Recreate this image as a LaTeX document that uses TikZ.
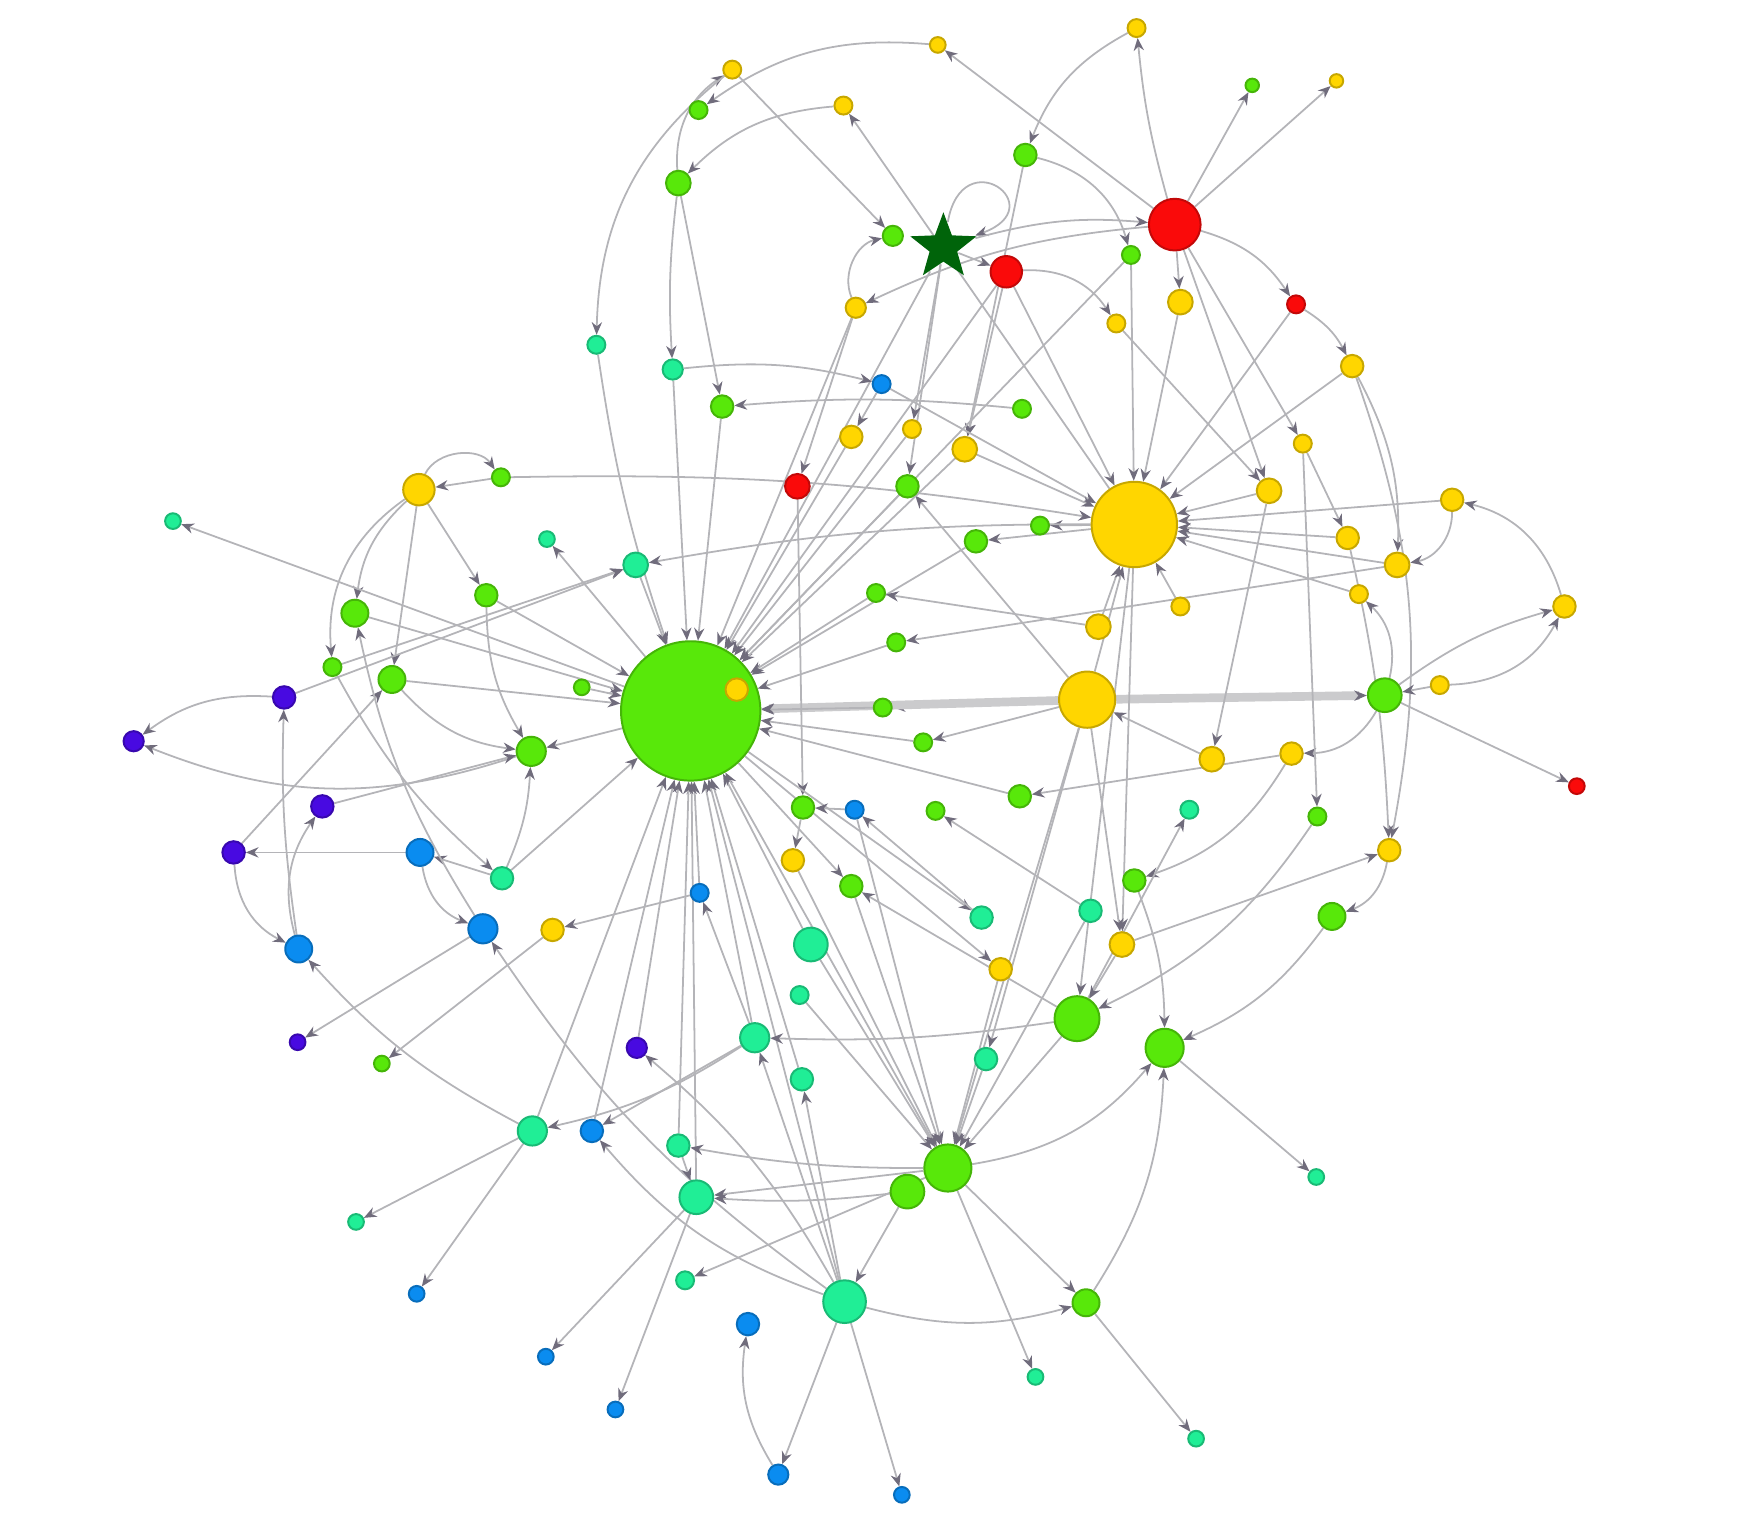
\documentclass[tikz,border=0pt]{standalone}
\usetikzlibrary{arrows.meta,shapes.geometric,backgrounds}

\begin{document}
\begin{tikzpicture}[x=.01cm, y=-.01cm,
	link/.style={draw=wire, line width=.45pt, -{Stealth[length=3.2pt, width=2.6pt, color=tipgray]}},
	heavy/.style={link, draw=wire!70, line width=2.2pt}]
	\definecolor{lime}{RGB}{88, 232, 10}
	\definecolor{gold}{RGB}{255, 214, 0}
	\definecolor{scarlet}{RGB}{250, 10, 10}
	\definecolor{mint}{RGB}{32, 238, 150}
	\definecolor{azure}{RGB}{10, 140, 240}
	\definecolor{indigo}{RGB}{72, 10, 225}
	\definecolor{forest}{RGB}{0, 100, 10}
	\definecolor{wire}{RGB}{180, 180, 184}
	\definecolor{tipgray}{RGB}{112, 108, 124}

	\useasboundingbox (0, 0) rectangle (1568, 1348);

	% \vertex#name#x#y#radius#color
	\def\vertex#1#2#3#4#5{
		\node[circle, inner sep=0, minimum size=#4*.2mm, fill=#5, draw=#5!78!black, line width=.5pt] (#1) at (#2, #3) {};
	}

	% top
	\vertex{y1}{835}{40}{7}{gold}
	\vertex{y2}{652}{62}{8}{gold}
	\vertex{y3}{1012}{25}{8}{gold}
	\vertex{y4}{1190}{72}{6}{gold}
	\vertex{g1}{1115}{76}{6}{lime}
	\vertex{g2}{622}{98}{8}{lime}
	\vertex{y5}{751}{94}{8}{gold}
	\vertex{g3}{913}{138}{10}{lime}
	\vertex{g4}{604}{163}{11}{lime}
	\vertex{R1}{1046}{200}{23}{scarlet}
	\node[star, star points=5, star point ratio=2.4, inner sep=0, minimum size=6.2mm, fill=forest] (star) at (840, 220) {};
	\vertex{g5}{795}{210}{9}{lime}
	\vertex{R2}{896}{242}{14}{scarlet}
	\vertex{g6}{1007}{227}{8}{lime}
	\vertex{y6}{762}{274}{9}{gold}
	\vertex{R3}{1154}{271}{8}{scarlet}
	\vertex{y7}{1051}{269}{11}{gold}
	\vertex{y8}{994}{288}{8}{gold}
	\vertex{t1}{531}{307}{8}{mint}
	\vertex{t2}{599}{329}{9}{mint}
	\vertex{b1}{785}{342}{8}{azure}
	\vertex{y9}{1204}{326}{10}{gold}
	\vertex{g7}{643}{362}{10}{lime}
	\vertex{g8}{910}{364}{8}{lime}
	\vertex{y10}{758}{389}{10}{gold}
	\vertex{y11}{812}{382}{8}{gold}
	\vertex{y12}{1160}{395}{8}{gold}
	\vertex{y13}{859}{400}{11}{gold}
	\vertex{R4}{710}{433}{11}{scarlet}
	\vertex{g9}{808}{433}{10}{lime}
	% middle
	\vertex{y14}{373}{436}{14}{gold}
	\vertex{g10}{446}{425}{8}{lime}
	\vertex{y15}{1130}{437}{11}{gold}
	\vertex{Ybig}{1010}{467}{38}{gold}
	\vertex{y16}{1293}{445}{10}{gold}
	\vertex{t3}{154}{464}{7}{mint}
	\vertex{t4}{487}{480}{7}{mint}
	\vertex{g11}{926}{468}{8}{lime}
	\vertex{g12}{869}{482}{10}{lime}
	\vertex{y17}{1200}{479}{10}{gold}
	\vertex{t5}{566}{503}{11}{mint}
	\vertex{y18}{1244}{503}{11}{gold}
	\vertex{g13}{433}{530}{10}{lime}
	\vertex{g14}{780}{528}{8}{lime}
	\vertex{y19}{1210}{529}{8}{gold}
	\vertex{y20}{1051}{540}{8}{gold}
	\vertex{g15}{316}{546}{12}{lime}
	\vertex{y21}{1393}{540}{10}{gold}
	\vertex{y22}{978}{558}{11}{gold}
	\vertex{g16}{798}{572}{8}{lime}
	\vertex{g17}{296}{594}{8}{lime}
	\vertex{g18}{349}{605}{12}{lime}
	\vertex{g19}{518}{612}{7}{lime}
	\vertex{G}{615}{633}{62}{lime}
	\vertex{y23}{656}{614}{10}{gold}
	\vertex{Y2}{968}{623}{25}{gold}
	\vertex{g20}{786}{630}{8}{lime}
	\vertex{g21}{1233}{619}{15}{lime}
	\vertex{y24}{1282}{610}{8}{gold}
	\vertex{p1}{253}{621}{10}{indigo}
	\vertex{p2}{119}{660}{9}{indigo}
	\vertex{g22}{473}{669}{13}{lime}
	\vertex{g23}{822}{661}{8}{lime}
	\vertex{y25}{1079}{676}{11}{gold}
	\vertex{y26}{1150}{671}{10}{gold}
	\vertex{R5}{1404}{700}{7}{scarlet}
	\vertex{p3}{287}{718}{10}{indigo}
	\vertex{g24}{908}{709}{10}{lime}
	\vertex{g25}{715}{719}{10}{lime}
	\vertex{b2}{761}{721}{8}{azure}
	\vertex{g26}{833}{722}{8}{lime}
	\vertex{t6}{1059}{721}{8}{mint}
	\vertex{g27}{1173}{727}{8}{lime}
	\vertex{p4}{208}{759}{10}{indigo}
	\vertex{b3}{374}{759}{12}{azure}
	\vertex{y27}{706}{766}{10}{gold}
	\vertex{y28}{1237}{757}{10}{gold}
	\vertex{t7}{447}{782}{10}{mint}
	\vertex{g28}{758}{789}{10}{lime}
	\vertex{g29}{1010}{784}{10}{lime}
	\vertex{b4}{623}{795}{8}{azure}
	\vertex{t8}{971}{811}{10}{mint}
	\vertex{t9}{874}{817}{10}{mint}
	\vertex{b5}{430}{827}{13}{azure}
	\vertex{y29}{492}{828}{10}{gold}
	\vertex{g30}{1186}{816}{12}{lime}
	\vertex{b6}{266}{845}{12}{azure}
	\vertex{t10}{722}{841}{15}{mint}
	\vertex{y30}{999}{841}{11}{gold}
	\vertex{y31}{891}{863}{10}{gold}
	% bottom
	\vertex{t11}{712}{886}{8}{mint}
	\vertex{G3}{959}{907}{20}{lime}
	\vertex{t12}{672}{924}{13}{mint}
	\vertex{p5}{265}{928}{7}{indigo}
	\vertex{g31}{340}{947}{7}{lime}
	\vertex{p6}{567}{933}{9}{indigo}
	\vertex{t13}{878}{943}{10}{mint}
	\vertex{G4}{1037}{933}{17}{lime}
	\vertex{t14}{714}{961}{10}{mint}
	\vertex{t15}{474}{1007}{13}{mint}
	\vertex{b7}{527}{1007}{10}{azure}
	\vertex{t16}{604}{1020}{10}{mint}
	\vertex{g32}{808}{1061}{15}{lime}
	\vertex{G5}{844}{1040}{21}{lime}
	\vertex{t17}{620}{1066}{15}{mint}
	\vertex{t18}{1172}{1048}{7}{mint}
	\vertex{t19}{317}{1088}{7}{mint}
	\vertex{t20}{610}{1140}{8}{mint}
	\vertex{b8}{371}{1152}{7}{azure}
	\vertex{T}{752}{1159}{19}{mint}
	\vertex{g33}{967}{1160}{12}{lime}
	\vertex{b9}{666}{1179}{10}{azure}
	\vertex{b10}{486}{1208}{7}{azure}
	\vertex{t21}{922}{1226}{7}{mint}
	\vertex{b11}{548}{1255}{7}{azure}
	\vertex{t22}{1065}{1281}{7}{mint}
	\vertex{b12}{693}{1313}{9}{azure}
	\vertex{b13}{803}{1331}{7}{azure}

	\begin{pgfonlayer}{background}
	% top arcs
	\draw[link] (y1) to[bend right=20] (g2);
	\draw[link] (g4) to[bend left=30] (y2);
	\draw[link] (y2) to[bend right=25] (t1);
	\draw[link] (y5) to[bend right=20] (g4);
	\draw[link] (y2) -- (g5);
	\draw[link] (R1) -- (y1);
	\draw[link] (y3) to[bend right=20] (g3);
	\draw[link] (R1) to[bend left=5] (y3);
	\draw[link] (R1) -- (g1);
	\draw[link] (R1) -- (y4);
	\draw[link] (g3) to[bend left=30] (g6);
	\draw[link] (g3) -- (y13);
	\draw[link] (star) to[out=80, in=20, looseness=7] (star);
	\draw[link] (star) -- (R2);
	\draw[link] (y6) to[bend left=50] (g5);
	\draw[link] (star) to[bend left=10] (R1);
	\draw[link] (R1) to[bend right=10] (y6);
	\draw[link] (Ybig) -- (y5);
	\draw[link] (g4) to[bend right=5] (t2);
	\draw[link] (g4) -- (g7);
	\draw[link] (R2) to[bend left=30] (y8);
	\draw[link] (R2) -- (Ybig);
	\draw[link] (R2) -- (y13);
	\draw[link] (star) -- (g9);
	\draw[link] (star) -- (G);
	\draw[link] (g6) -- (Ybig);
	\draw[link] (g6) -- (G);
	\draw[link] (y7) -- (Ybig);
	\draw[link] (R1) -- (y7);
	\draw[link] (R1) to[bend left=20] (R3);
	\draw[link] (R3) to[bend left=15] (y9);
	\draw[link] (R1) -- (y12);
	\draw[link] (R1) -- (y15);
	\draw[link] (y9) -- (Ybig);
	\draw[link] (R3) -- (Ybig);
	\draw[link] (y8) -- (y15);
	\draw[link] (y12) -- (y17);
	\draw[link] (t2) to[bend left=10] (b1);
	\draw[link] (b1) -- (y10);
	\draw[link] (b1) -- (Ybig);
	\draw[link] (g8) to[bend right=5] (g7);
	\draw[link] (star) -- (y11);
	\draw[link] (y13) -- (Ybig);
	% right side
	\draw[link] (y9) to[bend left=15] (y18);
	\draw[link] (y9) to[bend left=15] (y28);
	\draw[link] (y16) to[bend left=40] (y18);
	\draw[link] (y21) to[bend right=30] (y16);
	\draw[link] (y24) to[bend right=30] (y21);
	\draw[link] (g21) to[bend left=10] (y21);
	\draw[link] (y24) -- (g21);
	\draw[heavy] (Y2) -- (g21);
	\draw[link] (g21) -- (R5);
	\draw[link] (g21) to[bend left=30] (y26);
	\draw[link] (g21) to[bend right=30] (y19);
	\draw[link] (y16) -- (Ybig);
	\draw[link] (y15) -- (Ybig);
	\draw[link] (y18) -- (Ybig);
	\draw[link] (y19) -- (Ybig);
	\draw[link] (y17) -- (Ybig);
	\draw[link] (y20) -- (Ybig);
	\draw[link] (y22) -- (Ybig);
	\draw[link] (Y2) -- (Ybig);
	\draw[link] (Ybig) -- (g11);
	\draw[link] (Ybig) -- (g12);
	\draw[link] (g12) -- (G);
	\draw[link] (y22) -- (g14);
	\draw[link] (y18) -- (g16);
	\draw[link] (Y2) -- (g20);
	\draw[link] (Y2) -- (g23);
	\draw[link] (Y2) -- (g9);
	\draw[heavy] (Y2) -- (G);
	\draw[link] (Ybig) to[bend right=5] (t5);
	\draw[link] (y15) -- (y25);
	\draw[link] (y25) -- (Y2);
	\draw[link] (y26) to[bend left=20] (g29);
	\draw[link] (y26) -- (g24);
	\draw[link] (y12) -- (g27);
	\draw[link] (y17) to[bend left=5] (y28);
	\draw[link] (y30) -- (y28);
	\draw[link] (y28) to[bend left=30] (g30);
	\draw[link] (g30) to[bend left=15] (G4);
	\draw[link] (g29) to[bend left=10] (G4);
	\draw[link] (g27) to[bend left=15] (G3);
	\draw[link] (G3) -- (t6);
	\draw[link] (Ybig) -- (G3);
	\draw[link] (Ybig) -- (y30);
	\draw[link] (Y2) -- (y30);
	\draw[link] (Y2) -- (G5);
	\draw[link] (Y2) -- (t13);
	% left side
	\draw[link] (G) -- (t4);
	\draw[link] (g10) -- (y14);
	\draw[link] (y14) to[bend left=60] (g10);
	\draw[link] (g10) to[bend left=5] (Ybig);
	\draw[link] (y6) -- (R4);
	\draw[link] (R4) -- (g25);
	\draw[link] (g25) -- (y27);
	\draw[link] (y14) to[bend right=20] (g15);
	\draw[link] (y14) to[bend right=30] (g17);
	\draw[link] (y14) -- (g18);
	\draw[link] (y14) -- (g13);
	\draw[link] (G) -- (t3);
	\draw[link] (g15) -- (G);
	\draw[link] (g17) -- (t5);
	\draw[link] (g13) -- (G);
	\draw[link] (g13) to[bend right=15] (g22);
	\draw[link] (g18) -- (G);
	\draw[link] (g18) to[bend right=20] (g22);
	\draw[link] (g19) -- (G);
	\draw[link] (G) -- (g22);
	\draw[link] (g22) to[bend left=20] (p2);
	\draw[link] (p1) to[bend right=20] (p2);
	\draw[link] (p1) -- (t5);
	\draw[link] (b6) to[bend left=5] (p1);
	\draw[link] (b6) to[bend left=25] (p3);
	\draw[link] (p3) -- (g22);
	\draw[link] (b3) -- (p4);
	\draw[link] (p4) to[bend right=30] (b6);
	\draw[link] (b3) to[bend right=30] (b5);
	\draw[link] (t7) -- (b3);
	\draw[link] (t7) -- (G);
	\draw[link] (g17) to[bend right=10] (t7);
	\draw[link] (p4) -- (g18);
	\draw[link] (b5) to[bend left=10] (g15);
	\draw[link] (t7) to[bend right=10] (g22);
	\draw[link] (b5) -- (p5);
	\draw[link] (y29) -- (g31);
	\draw[link] (b4) -- (y29);
	% into the big green node
	\draw[link] (t1) to[bend right=5] (G);
	\draw[link] (t2) -- (G);
	\draw[link] (g7) -- (G);
	\draw[link] (y6) -- (G);
	\draw[link] (y10) -- (G);
	\draw[link] (y11) -- (G);
	\draw[link] (g9) -- (G);
	\draw[link] (g14) -- (G);
	\draw[link] (g16) -- (G);
	\draw[link] (g20) -- (G);
	\draw[link] (g23) -- (G);
	\draw[link] (R2) -- (G);
	\draw[link] (y13) -- (G);
	\draw[link] (t5) -- (G);
	\draw[link] (g24) -- (G);
	\draw[link] (t14) -- (G);
	\draw[link] (t10) -- (G);
	\draw[link] (b4) -- (G);
	\draw[link] (t17) -- (G);
	\draw[link] (t16) -- (G);
	\draw[link] (p6) -- (G);
	\draw[link] (b7) -- (G);
	\draw[link] (t12) -- (G);
	\draw[link] (G5) -- (G);
	\draw[link] (t15) -- (G);
	\draw[link] (T) -- (G);
	\draw[link] (G) -- (t9);
	\draw[link] (G) -- (y31);
	\draw[link] (G) -- (g28);
	% bottom
	\draw[link] (t15) to[bend left=10] (b6);
	\draw[link] (t15) -- (t19);
	\draw[link] (t15) -- (b8);
	\draw[link] (t12) to[bend left=10] (t15);
	\draw[link] (T) to[bend left=10] (b5);
	\draw[link] (t12) -- (b7);
	\draw[link] (t12) -- (b4);
	\draw[link] (T) to[bend left=15] (b7);
	\draw[link] (T) to[bend right=10] (p6);
	\draw[link] (G5) to[bend left=5] (t16);
	\draw[link] (t16) -- (t17);
	\draw[link] (t17) -- (b10);
	\draw[link] (t17) -- (b11);
	\draw[link] (b12) to[bend left=20] (b9);
	\draw[link] (G5) -- (t17);
	\draw[link] (g32) to[bend left=5] (t17);
	\draw[link] (G5) -- (t20);
	\draw[link] (T) -- (b12);
	\draw[link] (T) -- (b13);
	\draw[link] (T) -- (t12);
	\draw[link] (T) -- (t14);
	\draw[link] (T) to[bend right=15] (g33);
	\draw[link] (G5) -- (g33);
	\draw[link] (g33) -- (t22);
	\draw[link] (g33) to[bend right=15] (G4);
	\draw[link] (G4) -- (t18);
	\draw[link] (G5) to[bend right=20] (G4);
	\draw[link] (G5) -- (t21);
	\draw[link] (g32) -- (T);
	\draw[link] (t10) -- (G5);
	\draw[link] (t11) -- (G5);
	\draw[link] (y31) -- (G5);
	\draw[link] (t13) -- (G5);
	\draw[link] (G3) -- (G5);
	\draw[link] (t8) -- (G5);
	\draw[link] (y27) -- (G5);
	\draw[link] (g28) -- (G5);
	\draw[link] (b2) -- (G5);
	\draw[link] (G3) to[bend left=5] (t12);
	\draw[link] (y30) -- (G3);
	\draw[link] (b2) -- (g25);
	\draw[link] (t9) -- (b2);
	\draw[link] (t8) -- (g26);
	\draw[link] (G3) -- (g28);
	\end{pgfonlayer}
\end{tikzpicture}
\end{document}
